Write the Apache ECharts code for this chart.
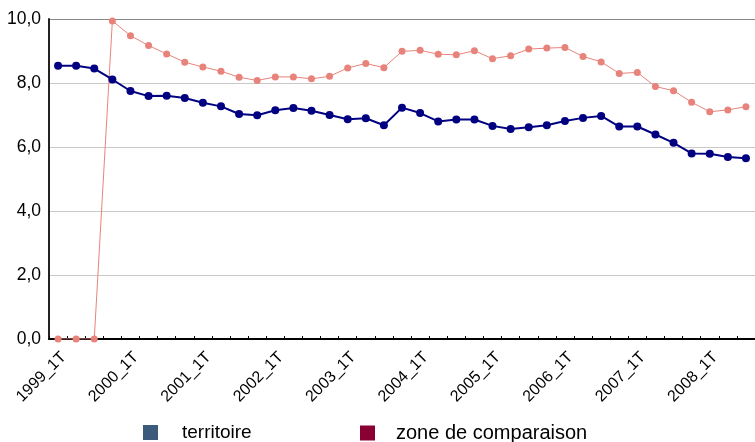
<!DOCTYPE html>
<html>
<head>
<meta charset="utf-8">
<script src="https://cdn.jsdelivr.net/npm/echarts@6/dist/echarts.min.js"></script>
<style>html,body{margin:0;padding:0;background:#fff;}#c{width:755px;height:442px;}</style>
</head>
<body>
<div id="c"></div>
<script>
const categories = [];
for (let y = 1999; y <= 2008; y++) {
  for (let q = 1; q <= 4; q++) {
    if (y === 2008 && q === 4) break;
    categories.push(y + '_' + q + 'T');
  }
}
const territoire = [8.54, 8.54, 8.45, 8.11, 7.75, 7.59, 7.60, 7.53, 7.38, 7.27, 7.03, 6.99,
  7.15, 7.22, 7.13, 7.00, 6.87, 6.90, 6.68, 7.23, 7.06, 6.80, 6.86, 6.86, 6.66,
  6.56, 6.62, 6.68, 6.81, 6.91, 6.97, 6.64, 6.64, 6.39, 6.13, 5.80, 5.79, 5.69, 5.65];
const zoneComparaison = [0, 0, 0, 9.94, 9.48, 9.17, 8.91, 8.65, 8.50, 8.37, 8.18, 8.08,
  8.19, 8.19, 8.13, 8.21, 8.47, 8.61, 8.48, 8.99, 9.02, 8.90, 8.88, 9.01, 8.76,
  8.85, 9.06, 9.09, 9.11, 8.83, 8.66, 8.30, 8.33, 7.89, 7.76, 7.40, 7.10, 7.16, 7.26];
const yTicks = [0, 2, 4, 6, 8, 10];

const chart = echarts.init(document.getElementById('c'), null, {renderer: 'canvas'});
const font = 'Liberation Sans, Arial, sans-serif';
chart.setOption({
  animation: false,
  backgroundColor: '#fff',
  grid: {left: 49, right: 0, top: 19, bottom: 103, containLabel: false},
  xAxis: {
    type: 'category',
    data: categories,
    boundaryGap: true,
    axisLine: {lineStyle: {color: '#000', width: 2}},
    axisTick: {show: true, inside: true, length: 3, interval: 0, lineStyle: {color: '#000', width: 1}},
    axisLabel: {
      interval: (i) => i % 4 === 0,
      rotate: 45,
      fontFamily: font,
      fontSize: 16,
      color: '#000',
      verticalAlign: 'top',
      margin: 10
    },
    splitLine: {show: false}
  },
  yAxis: {
    type: 'value',
    min: 0, max: 10, interval: 2,
    axisLine: {show: true, lineStyle: {color: '#222', width: 2}},
    axisTick: {show: false},
    axisLabel: {
      fontFamily: font, fontSize: 17.5, color: '#000', margin: 8,
      formatter: (v) => yTicks.includes(v) ? v.toFixed(1).replace('.', ',') : ''
    },
    splitLine: {show: true, lineStyle: {color: ['#c8c8c8', '#c8c8c8', '#c8c8c8', '#c8c8c8', '#c8c8c8', '#888'], width: 1}}
  },
  legend: [
    {
      left: 143, top: 423, padding: 0,
      icon: 'rect', itemWidth: 15, itemHeight: 15,
      data: [{name: 'territoire', itemStyle: {color: '#3b5b7c'}}],
      textStyle: {fontFamily: font, fontSize: 19, color: '#000', padding: [2, 0, 0, 19]}
    },
    {
      left: 360, top: 423, padding: 0,
      icon: 'rect', itemWidth: 15, itemHeight: 15,
      data: [{name: 'zone de comparaison', itemStyle: {color: '#8b0032'}}],
      textStyle: {fontFamily: font, fontSize: 20, color: '#000', padding: [2, 0, 0, 16]}
    }
  ],
  series: [
    {
      name: 'zone de comparaison',
      type: 'line',
      data: zoneComparaison,
      symbol: 'circle', symbolSize: 7,
      lineStyle: {color: '#e8837b', width: 1},
      itemStyle: {color: '#e8837b'},
      z: 2
    },
    {
      name: 'territoire',
      type: 'line',
      data: territoire,
      symbol: 'circle', symbolSize: 8,
      lineStyle: {color: '#000080', width: 2},
      itemStyle: {color: '#000080'},
      z: 3
    }
  ]
});
</script>
</body>
</html>
